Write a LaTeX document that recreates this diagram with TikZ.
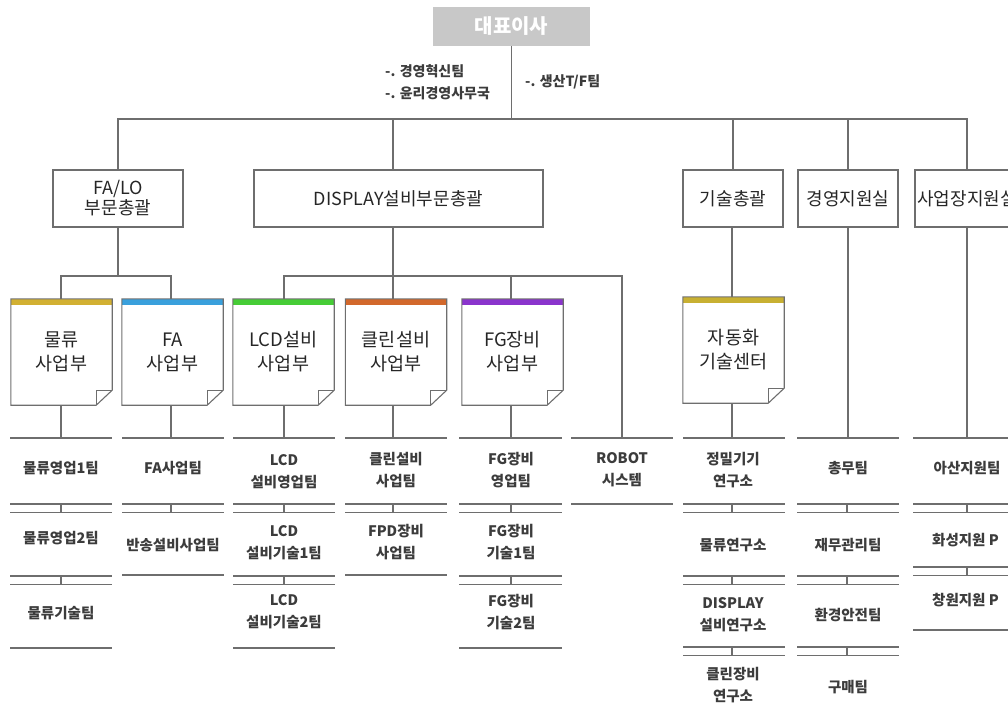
\documentclass[tikz,border=0pt]{standalone}
\usepackage{fontspec}
\setmainfont{Noto Sans CJK KR}
\definecolor{lc}{HTML}{6E6E6E}
\definecolor{tc}{HTML}{3C3C3C}
\definecolor{ceog}{HTML}{C8C8C8}
\definecolor{cgold}{HTML}{D2B032}
\definecolor{cblue}{HTML}{3AA0DC}
\definecolor{cgreen}{HTML}{46CC36}
\definecolor{corange}{HTML}{D2682C}
\definecolor{cpurple}{HTML}{8A34CC}
\definecolor{cgold2}{HTML}{C8B032}
\tikzset{
  ln/.style={draw=lc, line width=1.1pt},
  lvl/.style={draw=lc, line width=1.1pt, fill=white, minimum height=57pt, inner sep=0pt, align=center, font=\fontsize{18}{20}\selectfont, text=black!85},
  note/.style={minimum width=101pt, minimum height=106pt, inner sep=0pt, align=center, font=\fontsize{18.5}{24}\selectfont, text=black!85},
  team/.style={inner sep=0pt, align=center, font=\bfseries\fontsize{14.5}{22}\selectfont, text=tc},
  small/.style={inner sep=0pt, align=left, font=\bfseries\fontsize{14}{22}\selectfont, text=tc},
}
\newcommand\notedraw[2]{%
  \fill[#2] (#1.north west) rectangle ([yshift=-6pt]#1.north east);
  \draw[ln] (#1.north west) -- (#1.north east) -- ([yshift=15pt]#1.south east) -- ([xshift=-16pt]#1.south east) -- (#1.south west) -- cycle;
  \draw[ln] ([yshift=15pt]#1.south east) -- ([xshift=-16pt,yshift=15pt]#1.south east) -- ([xshift=-16pt]#1.south east);
}
\newcommand\dsep[4]{\draw[ln] (#1,#4) -- (#2,#4) (#1,#4+8.5) -- (#2,#4+8.5) (#3,#4) -- (#3,#4+8.5);}
\newcommand\hsep[3]{\draw[ln] (#1,#3) -- (#2,#3);}
\begin{document}
\begin{tikzpicture}[x=1pt,y=-1pt]
\useasboundingbox (0,0) rectangle (1008,717);
% CEO
\node[fill=ceog, minimum width=157pt, minimum height=39pt, inner sep=0pt, text=white, font=\bfseries\fontsize{20}{22}\selectfont] (ceo) at (511.5,26.5) {대표이사};
\node[small, anchor=west] (st1) at (385,82) {-. 경영혁신팀\\-. 윤리경영사무국};
\node[small, anchor=west] (st2) at (525,82) {-. 생산T/F팀};
\coordinate (bus) at (0,119);
% level 2
\node[lvl, minimum width=130pt] (fa) at (118,198.5) {FA/LO\\부문총괄};
\node[lvl, minimum width=289pt] (disp) at (398.5,198.5) {DISPLAY설비부문총괄};
\node[lvl, minimum width=100pt] (tech) at (733,198.5) {기술총괄};
\node[lvl, minimum width=100pt] (mgmt) at (848,198.5) {경영지원실};
\node[lvl, minimum width=104pt] (site) at (967,198.5) {사업장지원실};
\draw[ln] (ceo.south) -- (ceo.south |- bus);
\draw[ln] (fa.north) |- (bus -| site.north) -- (site.north);
\draw[ln] (disp.north -| 393,0) -- (bus -| 393,0);
\draw[ln] (tech.north) -- (tech.north |- bus);
\draw[ln] (mgmt.north) -- (mgmt.north |- bus);
% divisions
\node[note] (mul) at (61.5,352) {물류\\사업부};
\node[note] (fad) at (172.5,352) {FA\\사업부};
\node[note] (lcd) at (283.5,352) {LCD설비\\사업부};
\node[note] (cln) at (396,352) {클린설비\\사업부};
\node[note] (fg) at (512.5,352) {FG장비\\사업부};
\node[note] (auto) at (733.5,350) {자동화\\기술센터};
\notedraw{mul}{cgold}
\notedraw{fad}{cblue}
\notedraw{lcd}{cgreen}
\notedraw{cln}{corange}
\notedraw{fg}{cpurple}
\notedraw{auto}{cgold2}
\coordinate (br) at (0,276);
\coordinate (tl) at (0,438);
\coordinate (rob) at (622,438);
% brackets
\draw[ln] (fa.south) -- (fa.south |- br);
\draw[ln] (mul.north -| 61,0) |- (br -| 171,0) -- (fad.north -| 171,0);
\draw[ln] (disp.south -| 393,0) -- (br -| 393,0);
\draw[ln] (lcd.north -| 284,0) |- (br -| rob) -- (rob);
\draw[ln] (cln.north -| 393,0) -- (br -| 393,0);
\draw[ln] (fg.north -| 511,0) -- (br -| 511,0);
\draw[ln] (tech.south -| 732,0) -- (auto.north -| 732,0);
\draw[ln] (mgmt.south) -- (mgmt.south |- tl);
\draw[ln] (site.south) -- (site.south |- tl);
\draw[ln] (mul.south -| 61,0) -- (tl -| 61,0);
\draw[ln] (fad.south -| 171,0) -- (tl -| 171,0);
\draw[ln] (lcd.south -| 284,0) -- (tl -| 284,0);
\draw[ln] (cln.south -| 393,0) -- (tl -| 393,0);
\draw[ln] (fg.south -| 511,0) -- (tl -| 511,0);
\draw[ln] (auto.south -| 732,0) -- (tl -| 732,0);
% column 1
\hsep{10}{112}{438}
\node[team] (m1) at (61,468) {물류영업1팀};
\dsep{10}{112}{61}{504}
\node[team] (m2) at (61,538) {물류영업2팀};
\dsep{10}{112}{61}{576}
\node[team] (m3) at (61,613) {물류기술팀};
\hsep{10}{112}{648}
% column 2
\hsep{122}{224}{438}
\node[team] (f1) at (173,468) {FA사업팀};
\dsep{122}{224}{171}{504}
\node[team] (f2) at (173,545) {반송설비사업팀};
\hsep{122}{224}{575}
% column 3
\hsep{233}{335}{438}
\node[team] (l1) at (284,472) {LCD\\설비영업팀};
\dsep{233}{335}{284}{504}
\node[team] (l2) at (284,543) {LCD\\설비기술1팀};
\dsep{233}{335}{284}{576}
\node[team] (l3) at (284,612) {LCD\\설비기술2팀};
\hsep{233}{335}{648}
% column 4
\hsep{345}{447}{438}
\node[team] (c1) at (396,470) {클린설비\\사업팀};
\dsep{345}{447}{393}{504}
\node[team] (c2) at (396,542) {FPD장비\\사업팀};
\hsep{345}{447}{575}
% column 5
\hsep{459}{562}{438}
\node[team] (g1) at (511,470) {FG장비\\영업팀};
\dsep{459}{562}{511}{504}
\node[team] (g2) at (511,542) {FG장비\\기술1팀};
\dsep{459}{562}{511}{576}
\node[team] (g3) at (511,612) {FG장비\\기술2팀};
\hsep{459}{562}{648}
% column 6
\hsep{571}{673}{438}
\node[team] (r1) at (622,470) {ROBOT\\시스템};
\hsep{571}{673}{504}
% column 7
\hsep{683}{785}{438}
\node[team] (a1) at (733,470) {정밀기기\\연구소};
\dsep{683}{785}{732}{504}
\node[team] (a2) at (733,545) {물류연구소};
\dsep{683}{785}{732}{576}
\node[team] (a3) at (733,615) {DISPLAY\\설비연구소};
\dsep{683}{785}{732}{647}
\node[team] (a4) at (733,685) {클린장비\\연구소};
% column 8
\hsep{797}{899}{438}
\node[team] (g1x) at (848,468) {총무팀};
\dsep{797}{899}{847}{504}
\node[team] (g2x) at (848,545) {재무관리팀};
\dsep{797}{899}{847}{576}
\node[team] (g3x) at (848,615) {환경안전팀};
\dsep{797}{899}{847}{647}
\node[team] (g4x) at (848,687) {구매팀};
% column 9
\hsep{913}{1012}{438}
\node[team] (s1) at (967,468) {아산지원팀};
\dsep{913}{1012}{967}{504}
\node[team, anchor=west] (s2) at (932,540) {화성지원 P};
\dsep{913}{1012}{967}{567}
\node[team, anchor=west] (s3) at (932,600) {창원지원 P};
\hsep{913}{1012}{630}
\end{tikzpicture}
\end{document}
